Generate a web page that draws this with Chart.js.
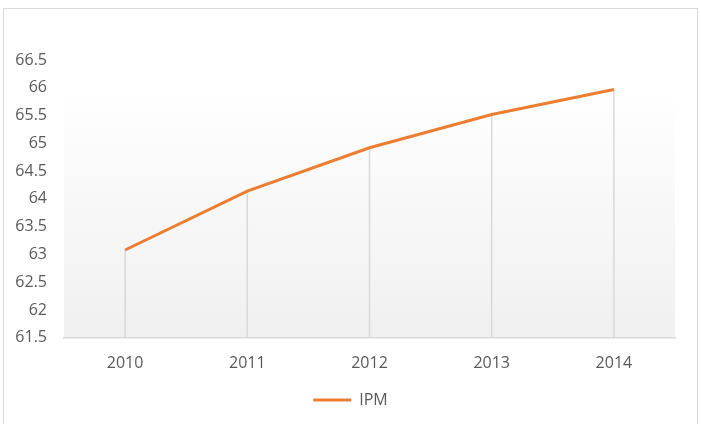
<!DOCTYPE html>
<html>
<head>
<meta charset="utf-8">
<script src="https://cdn.jsdelivr.net/npm/chart.js@4/dist/chart.umd.min.js"></script>
<style>
  html, body { margin: 0; padding: 0; background: #fff; }
  #wrap { width: 701px; height: 424px; }
</style>
</head>
<body>
<div id="wrap"><canvas id="grafico" width="701" height="424"></canvas></div>
<script>
// dados
const anos = ['2010', '2011', '2012', '2013', '2014'];
const ipm = [63.08, 64.14, 64.92, 65.52, 65.97];
const yMin = 61.5;
const yMax = 66.5;
const yStep = 0.5;

const laranja = '#ED7D31';
const cinzaTexto = '#595959';
const fonte = { family: '"Open Sans", "DejaVu Sans", sans-serif', size: 16 };

// moldura + fundo degradê da área do gráfico
const fundoPlugin = {
  id: 'fundo',
  beforeDraw(chart) {
    const { ctx, chartArea: a, width, height } = chart;
    ctx.save();
    ctx.fillStyle = '#fff';
    ctx.fillRect(0, 0, width, height);
    ctx.strokeStyle = '#d9d9d9';
    ctx.lineWidth = 1;
    ctx.strokeRect(3.5, 8.5, width - 7, height - 5);
    const g = ctx.createLinearGradient(0, a.top, 0, a.bottom);
    g.addColorStop(0, '#ffffff');
    g.addColorStop(0.1, '#ffffff');
    g.addColorStop(1, '#f0f0f0');
    ctx.fillStyle = g;
    ctx.fillRect(a.left, a.top, a.right - a.left, a.bottom - a.top);
    ctx.restore();
  },
  // linhas verticais de cada ponto até o eixo
  beforeDatasetsDraw(chart) {
    const { ctx, chartArea: a } = chart;
    const meta = chart.getDatasetMeta(0);
    ctx.save();
    ctx.strokeStyle = '#d9d9d9';
    ctx.lineWidth = 1.5;
    meta.data.forEach(p => {
      ctx.beginPath();
      ctx.moveTo(p.x, p.y);
      ctx.lineTo(p.x, a.bottom);
      ctx.stroke();
    });
    ctx.restore();
  }
};

new Chart(document.getElementById('grafico').getContext('2d'), {
  type: 'line',
  data: {
    labels: anos,
    datasets: [{
      label: 'IPM',
      data: ipm,
      borderColor: laranja,
      backgroundColor: laranja,
      borderWidth: 3,
      pointRadius: 0,
      tension: 0,
      fill: false
    }]
  },
  options: {
    responsive: false,
    animation: false,
    devicePixelRatio: 1,
    layout: { padding: { top: 60, right: 0, bottom: 6, left: 0 } },
    plugins: {
      tooltip: { enabled: false },
      legend: {
        position: 'bottom',
        labels: {
          color: cinzaTexto,
          font: fonte,
          boxWidth: 38,
          boxHeight: 0,
          padding: 3,
          generateLabels(chart) {
            return [{
              text: 'IPM',
              fillStyle: laranja,
              strokeStyle: laranja,
              lineWidth: 3,
              fontColor: cinzaTexto,
              datasetIndex: 0
            }];
          }
        }
      }
    },
    scales: {
      x: {
        offset: true,
        grid: { display: false, drawTicks: false },
        border: { display: true, color: '#d9d9d9', width: 1.5 },
        ticks: { color: cinzaTexto, font: fonte, padding: 16 }
      },
      y: {
        min: yMin,
        max: yMax,
        grid: { display: false, drawTicks: false },
        border: { display: false },
        ticks: {
          stepSize: yStep,
          color: cinzaTexto,
          font: fonte,
          padding: 17,
          callback: v => String(Math.round(v * 10) / 10)
        },
        afterFit(scale) { scale.width = 64; }
      },
      // eixo vazio à direita, só para reservar a margem
      margem: {
        position: 'right',
        grid: { display: false, drawTicks: false },
        border: { display: false },
        ticks: { display: false },
        afterFit(scale) { scale.width = 26; }
      }
    }
  },
  plugins: [fundoPlugin]
});
</script>
</body>
</html>
